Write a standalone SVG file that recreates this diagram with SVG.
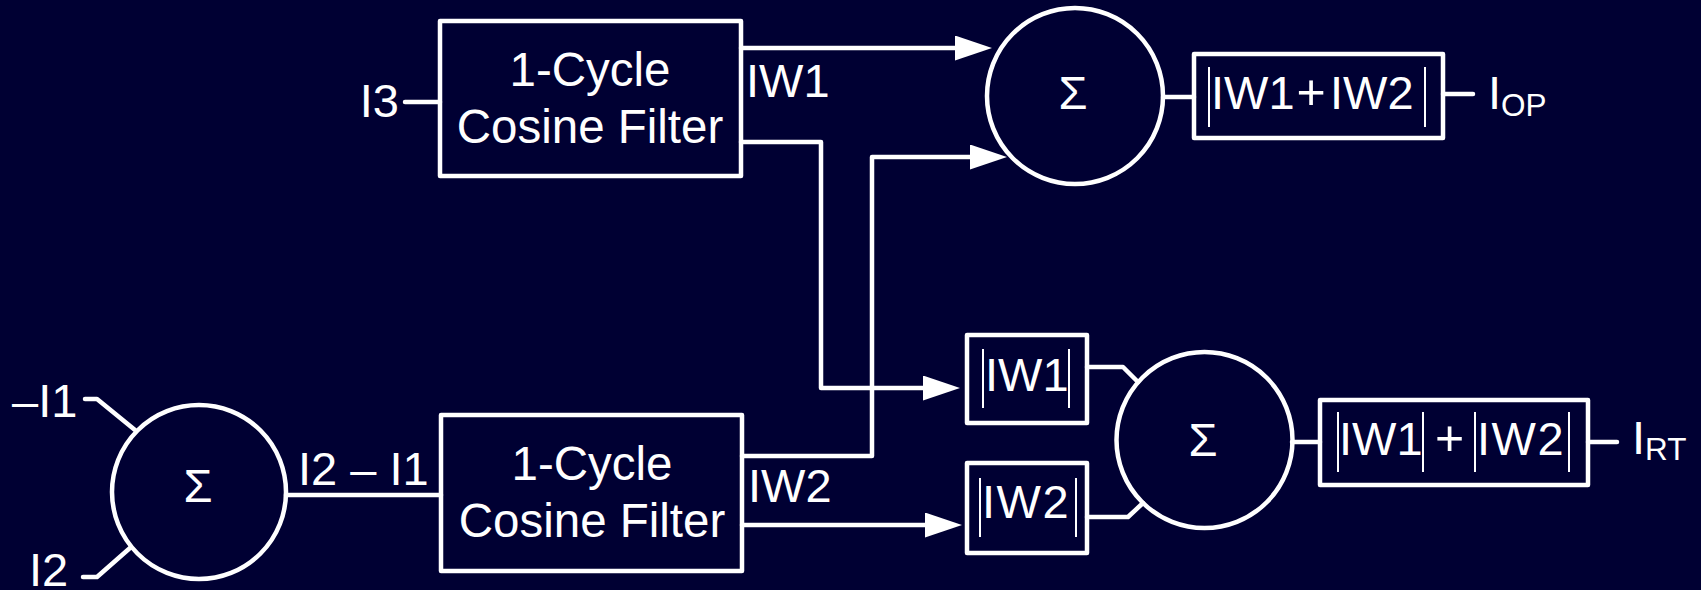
<svg xmlns="http://www.w3.org/2000/svg" width="1701" height="590" viewBox="0 0 1701 590">
<defs>
<marker id="arr" markerUnits="userSpaceOnUse" viewBox="0 0 37 25" markerWidth="37" markerHeight="25" refX="5" refY="12.5" orient="auto">
<path d="M0,0 L37,12.5 L0,25 z" fill="#ffffff"/>
</marker>
</defs>
<style>
.bx{fill:none;stroke:#ffffff;stroke-width:4.5;stroke-linejoin:round}
.ln{fill:none;stroke:#ffffff;stroke-width:4.5;stroke-linecap:round;stroke-linejoin:round}
.bar{stroke:#ffffff;stroke-width:2}
text{font-family:"Liberation Sans",Arial,sans-serif;font-size:47px;fill:#ffffff}
.c{text-anchor:middle}
.f{font-size:47.5px}
.sub{font-size:31.5px}
.pl{font-size:50px}
</style>
<rect width="1701" height="590" fill="#000033"/>
<g id="connectors">
<path class="ln" d="M405,102 H440"/>
<path class="ln" d="M85,399 H97 L135,430"/>
<path class="ln" d="M83,577 H97 L130,548"/>
<path class="ln" d="M286,495 H441"/>
<path class="ln" d="M741,48 H960" marker-end="url(#arr)"/>
<path class="ln" d="M741,142 H821 V388 H928" marker-end="url(#arr)"/>
<path class="ln" d="M742,456 H872 V157 H975" marker-end="url(#arr)"/>
<path class="ln" d="M742,525 H930" marker-end="url(#arr)"/>
<path class="ln" d="M1163,97 H1194"/>
<path class="ln" d="M1443,94 H1473"/>
<path class="ln" d="M1087,367 H1123 L1138,382"/>
<path class="ln" d="M1087,517 H1128 L1143,503"/>
<path class="ln" d="M1292,442 H1320"/>
<path class="ln" d="M1588,442 H1617"/>
</g>
<g id="labels">
<text x="399" y="117" text-anchor="end">I3</text>
<text x="746" y="97">IW1</text>
<text x="748" y="502">IW2</text>
<text x="12" y="417">–I1</text>
<text x="29" y="586">I2</text>
<text x="298" y="485">I2 – I1</text>
<text x="1488" y="109">I<tspan class="sub" dy="7">OP</tspan></text>
<text x="1632" y="454">I<tspan class="sub" dy="6">RT</tspan></text>
</g>
<g id="sum_in">
<circle class="bx" cx="199" cy="492" r="87"/>
<text class="c" x="198" y="502">Σ</text>
</g>
<g id="filter1">
<rect class="bx" x="440" y="21" width="301" height="155"/>
<text class="c f" x="590" y="86">1-Cycle</text>
<text class="c f" x="590" y="143">Cosine Filter</text>
</g>
<g id="filter2">
<rect class="bx" x="441" y="415" width="301" height="156"/>
<text class="c f" x="592" y="480">1-Cycle</text>
<text class="c f" x="592" y="537">Cosine Filter</text>
</g>
<g id="sum_op">
<circle class="bx" cx="1075" cy="96" r="88"/>
<text class="c" x="1073" y="109">Σ</text>
</g>
<g id="abs_sum">
<rect class="bx" x="1194" y="54" width="249" height="84"/>
<line class="bar" x1="1209" y1="67" x2="1209" y2="127"/>
<line class="bar" x1="1425" y1="67" x2="1425" y2="127"/>
<text x="1211" y="109">IW1</text>
<text class="c pl" x="1311" y="109">+</text>
<text x="1330" y="109">IW2</text>
</g>
<g id="abs_iw1">
<rect class="bx" x="967" y="335" width="120" height="88"/>
<line class="bar" x1="983" y1="349" x2="983" y2="408"/>
<line class="bar" x1="1069" y1="349" x2="1069" y2="408"/>
<text x="985" y="391">IW1</text>
</g>
<g id="abs_iw2">
<rect class="bx" x="967" y="463" width="120" height="90"/>
<line class="bar" x1="980" y1="478" x2="980" y2="537"/>
<line class="bar" x1="1076" y1="478" x2="1076" y2="537"/>
<text x="982" y="518" letter-spacing="1.5">IW2</text>
</g>
<g id="sum_rt">
<circle class="bx" cx="1204.5" cy="440" r="88"/>
<text class="c" x="1203" y="456">Σ</text>
</g>
<g id="abs_rt">
<rect class="bx" x="1320" y="400" width="268" height="85"/>
<line class="bar" x1="1338" y1="412" x2="1338" y2="472"/>
<line class="bar" x1="1423" y1="412" x2="1423" y2="472"/>
<line class="bar" x1="1475" y1="412" x2="1475" y2="472"/>
<line class="bar" x1="1569" y1="412" x2="1569" y2="472"/>
<text x="1339" y="455">IW1</text>
<text class="c pl" x="1449.5" y="455">+</text>
<text x="1477" y="455" letter-spacing="1.5">IW2</text>
</g>
</svg>
